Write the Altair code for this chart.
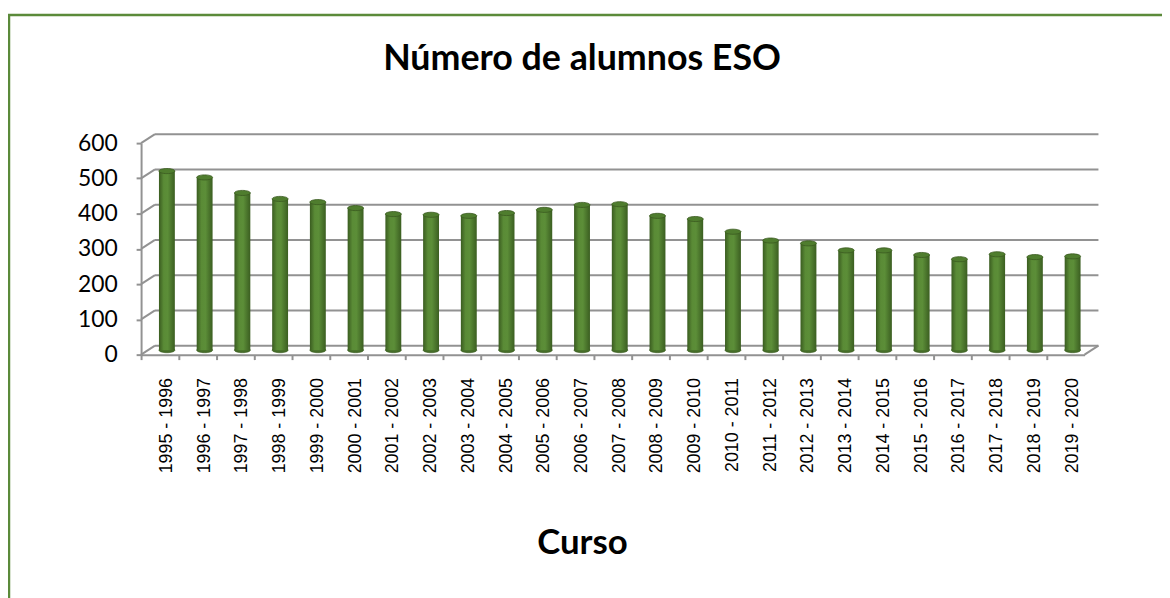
import altair as alt
import pandas as pd

# ---------------- data ----------------
cursos = [
    "1995 - 1996", "1996 - 1997", "1997 - 1998", "1998 - 1999", "1999 - 2000",
    "2000 - 2001", "2001 - 2002", "2002 - 2003", "2003 - 2004", "2004 - 2005",
    "2005 - 2006", "2006 - 2007", "2007 - 2008", "2008 - 2009", "2009 - 2010",
    "2010 - 2011", "2011 - 2012", "2012 - 2013", "2013 - 2014", "2014 - 2015",
    "2015 - 2016", "2016 - 2017", "2017 - 2018", "2018 - 2019", "2019 - 2020",
]
alumnos = [508, 490, 446, 429, 420, 403, 386, 384, 381, 389,
           398, 412, 414, 381, 372, 336, 311, 303, 283, 283,
           270, 258, 272, 264, 266]
y_ticks = [0, 100, 200, 300, 400, 500, 600]
titulo = ["Número de alumnos ESO"]

df = pd.DataFrame({"Curso": cursos, "Alumnos": alumnos})
grid = pd.DataFrame({"v": y_ticks})
zero = pd.DataFrame({"v": [0]})
one = pd.DataFrame({"t": titulo})

# ---------------- layout / style ----------------
W, H = 950, 213
DX, DY = 14, -9          # depth offset of the back wall
BX, BY = 7, -4.5         # bars sit half-way in depth
GRAY = "#929292"
GREEN_FRAME = "#5b8a3a"

yscale = alt.Scale(domain=[0, 600])
yaxis = alt.Axis(values=y_ticks, grid=False, domain=True, domainColor=GRAY,
                 domainWidth=2, ticks=True, tickColor=GRAY, tickWidth=2,
                 tickSize=5, labelFont="Lato", labelFontSize=23,
                 labelColor="black", labelPadding=19, title=None)
xscale = alt.Scale(domain=cursos, paddingInner=0, paddingOuter=0)
xaxis = alt.Axis(labelAngle=-90, labelFont="Liberation Sans", labelFontSize=18,
                 labelColor="black", labelAlign="right", labelBaseline="middle",
                 labelPadding=18, labelOffset=7, bandPosition=0,
                 domainColor=GRAY, domainWidth=2, tickColor=GRAY, tickWidth=2,
                 tickSize=5, title="Curso", titleFont="Lato", titleFontSize=35,
                 titleFontWeight="bold", titleColor="black", titleX=444,
                 titleY=200, titleAlign="center", titleBaseline="alphabetic",
                 labelOverlap=False)

# back wall gridlines
back = alt.Chart(grid).mark_rule(color=GRAY, strokeWidth=2, yOffset=DY).encode(
    y=alt.Y("v:Q", scale=yscale, axis=yaxis),
    x=alt.value(DX), x2=alt.value(W + DX),
)
# side wall diagonals
side = alt.Chart(grid).mark_rule(color=GRAY, strokeWidth=2, y2Offset=DY).encode(
    y=alt.Y("v:Q", scale=yscale, axis=yaxis), y2=alt.Y2("v:Q"),
    x=alt.value(0), x2=alt.value(DX),
)
# floor right edge
floor_r = alt.Chart(zero).mark_rule(color=GRAY, strokeWidth=2, y2Offset=DY).encode(
    y=alt.Y("v:Q", scale=yscale, axis=yaxis), y2=alt.Y2("v:Q"),
    x=alt.value(W), x2=alt.value(W + DX),
)

ellipse = "M-1,0 A1,0.32 0 1,1 1,0 A1,0.32 0 1,1 -1,0 Z"

bottom_cap = alt.Chart(df).mark_point(
    shape=ellipse, size=256, filled=True, fill="#456d28", stroke="#3a5a20",
    strokeWidth=0.6, opacity=1, xOffset=BX, yOffset=BY,
).encode(
    x=alt.X("Curso:N", scale=xscale, axis=xaxis, sort=cursos),
    y=alt.Y("z:Q", scale=yscale, axis=yaxis),
).transform_calculate(z="0")

grad = alt.Gradient(
    gradient="linear",
    stops=[
        alt.GradientStop(offset=0, color="#3a5c20"),
        alt.GradientStop(offset=0.3, color="#5a8b36"),
        alt.GradientStop(offset=0.55, color="#5c8e38"),
        alt.GradientStop(offset=1, color="#3b5e21"),
    ],
    x1=0, x2=1, y1=0, y2=0,
)

bars = alt.Chart(df).mark_bar(
    size=16, fill=grad, xOffset=BX, yOffset=BY, y2Offset=BY,
).encode(
    x=alt.X("Curso:N", scale=xscale, axis=xaxis, sort=cursos),
    y=alt.Y("Alumnos:Q", scale=yscale, axis=yaxis),
)

top_cap = alt.Chart(df).mark_point(
    shape=ellipse, size=256, filled=True, fill="#4f7d2e", stroke="#3a5a20",
    strokeWidth=0.8, opacity=1, xOffset=BX, yOffset=BY,
).encode(
    x=alt.X("Curso:N", scale=xscale, axis=xaxis, sort=cursos),
    y=alt.Y("Alumnos:Q", scale=yscale, axis=yaxis),
)

title_txt = alt.Chart(one).mark_text(
    font="Lato", fontSize=36, fontWeight="bold", color="black",
    align="center", baseline="alphabetic",
).encode(
    text="t:N", x=alt.value(444), y=alt.value(-74),
)

frame = alt.Chart(one).mark_rect(
    fillOpacity=0, stroke=GREEN_FRAME, strokeWidth=2.5,
).encode(
    x=alt.value(-133), x2=alt.value(W + 300),
    y=alt.value(-129), y2=alt.value(H + 400),
)

chart = alt.layer(back, side, floor_r, bottom_cap, bars, top_cap, title_txt, frame).properties(
    width=W, height=H,
    autosize=alt.AutoSizeParams(type="none"),
    padding={"left": 134, "top": 134, "right": 78, "bottom": 243},
    background="white",
).configure_view(stroke=None)

chart.save("out.html", embed_options={"renderer": "svg", "actions": False})
